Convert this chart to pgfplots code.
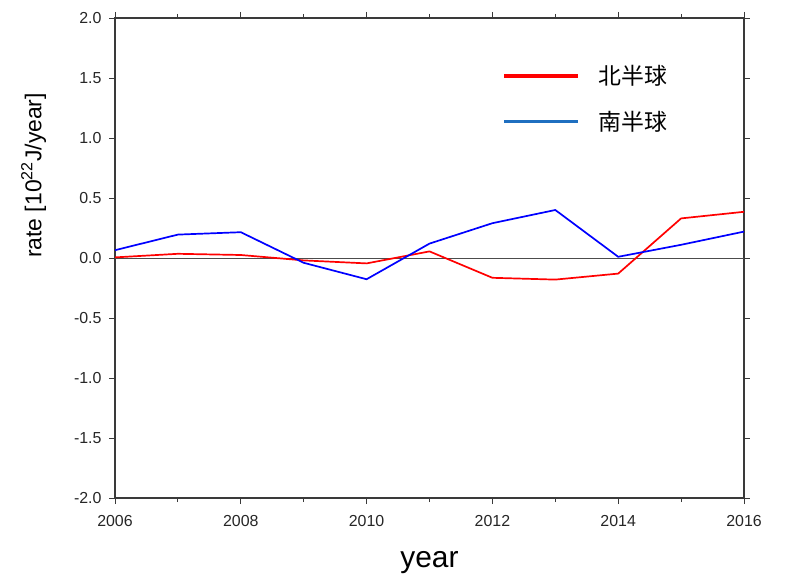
\documentclass[border=0pt]{standalone}
\usepackage{pgfplots}
\pgfplotsset{compat=1.18}
\usepackage{fontspec}
\setmainfont{Liberation Sans}
\newfontfamily\cjk{Noto Sans CJK SC}
\definecolor{legblue}{HTML}{1F6FC0}
\definecolor{axgray}{HTML}{3A3A3A}
\begin{document}
\begin{tikzpicture}
\useasboundingbox (-115bp,-78bp) rectangle (675bp,498bp);
\begin{axis}[
  at={(0,0)}, anchor=south west,
  scale only axis, width=629bp, height=480bp,
  xmin=2006, xmax=2016, ymin=-2, ymax=2,
  xtick={2006,2008,...,2016}, minor xtick={2007,2009,...,2015},
  ytick={-2,-1.5,...,2},
  xticklabel style={/pgf/number format/1000 sep={}, yshift=-8bp},
  yticklabel style={/pgf/number format/.cd, fixed, fixed zerofill, precision=1, /tikz/xshift=-4bp},
  /pgf/number format/assume math mode=true,
  tick label style={font=\fontsize{16}{18}\selectfont, color=black!85},
  tick align=outside, tick pos=both,
  major tick length=6bp, minor tick length=4bp,
  every tick/.style={axgray, line width=0.8bp},
  axis line style={axgray, line width=1.3bp},
  xlabel={\fontsize{30}{32}\selectfont year},
  ylabel={\fontsize{23}{25}\selectfont rate [10\textsuperscript{22}J/year]},
  xlabel style={yshift=-18bp},
  ylabel style={at={(ticklabel cs:0.672)}, yshift=21bp},
  legend style={draw=none, fill=none, at={(0.611,0.91)}, anchor=north west,
    font=\cjk\fontsize{23}{25}\selectfont, row sep=21bp,
    /tikz/every odd column/.append style={column sep=17bp}},
  legend cell align=left,
  legend image code/.code={\draw[#1] (0bp,0bp) -- (74bp,0bp);},
]
\addplot[black!70, line width=0.7bp, forget plot] coordinates {(2006,0) (2016,0)};
\addplot[red, line width=1.7bp, forget plot] coordinates {
(2006,0.005) (2007,0.035) (2008,0.025) (2009,-0.02) (2010,-0.045) (2011,0.055)
(2012,-0.165) (2013,-0.18) (2014,-0.13) (2015,0.33) (2016,0.385)};
\addplot[blue, line width=1.7bp, forget plot] coordinates {
(2006,0.065) (2007,0.195) (2008,0.215) (2009,-0.04) (2010,-0.177) (2011,0.12)
(2012,0.29) (2013,0.40) (2014,0.01) (2015,0.11) (2016,0.22)};
\addlegendimage{red, line width=3.5bp}
\addlegendentry{北半球}
\addlegendimage{legblue, line width=3.5bp}
\addlegendentry{南半球}
\end{axis}
\end{tikzpicture}
\end{document}
